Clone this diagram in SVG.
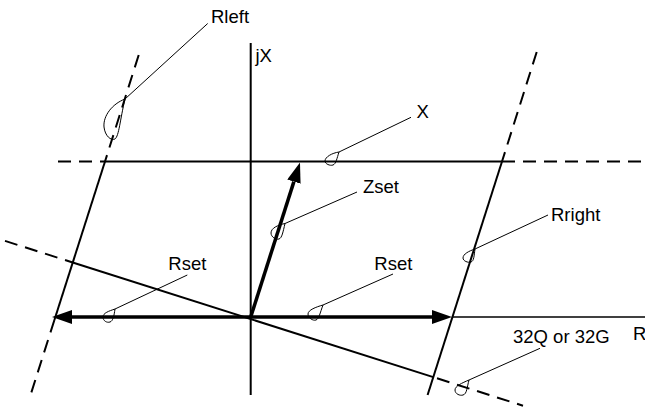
<svg xmlns="http://www.w3.org/2000/svg" width="645" height="412" viewBox="0 0 645 412">
<style>
.ln{stroke:#000;stroke-width:2;fill:none}
.ds{stroke:#000;stroke-width:2;fill:none;stroke-dasharray:13 8}
.bold{stroke:#000;stroke-width:3.5;fill:none}
.ax{stroke:#000;stroke-width:2;fill:none}
.ldr{stroke:#000;stroke-width:1;fill:none}
.loop{stroke:#000;stroke-width:1;fill:none}
text{font-family:"Liberation Sans",Arial,sans-serif;font-size:18.5px;fill:#000}
</style>
<defs>
<marker id="arr" viewBox="0 0 20 14" refX="0" refY="7" markerWidth="20" markerHeight="14" markerUnits="userSpaceOnUse" orient="auto">
<path d="M0,0 L20,7 L0,14 Z" fill="#000"/>
</marker>
</defs>
<rect width="645" height="412" fill="#fff"/>
<g id="axes">
<line class="ax" x1="250.7" y1="43" x2="250.7" y2="395"/>
<line class="ax" x1="452" y1="317" x2="645" y2="317" style="stroke-width:1.7"/>
<text x="255.5" y="62">jX</text>
<text x="633" y="340">R</text>
</g>
<g id="boundaries">
<line class="ds" x1="58" y1="161.5" x2="105" y2="161.5"/>
<line class="ln" x1="105" y1="161.5" x2="502" y2="161.5"/>
<line class="ds" x1="502" y1="161.5" x2="645" y2="161.5"/>
<line class="ds" x1="138.7" y1="55" x2="105" y2="161.5"/>
<line class="ln" x1="105" y1="161.5" x2="54.4" y2="320"/>
<line class="ds" x1="54.4" y1="320" x2="29.6" y2="398"/>
<line class="ds" x1="536.7" y1="52" x2="502" y2="161.5"/>
<line class="ln" x1="502" y1="161.5" x2="427.6" y2="395"/>
<line class="ds" x1="5" y1="240.9" x2="72.7" y2="262.5"/>
<line class="ln" x1="72.7" y1="262.5" x2="433.3" y2="377.1"/>
<line class="ds" x1="437" y1="378.3" x2="523" y2="405.7"/>
</g>
<g id="vectors">
<line class="bold" x1="250.7" y1="317" x2="72" y2="317" marker-end="url(#arr)"/>
<line class="bold" x1="250.7" y1="317" x2="432" y2="317" marker-end="url(#arr)"/>
<line class="bold" x1="250.7" y1="317" x2="293.9" y2="181.6" marker-end="url(#arr)"/>
</g>
<g id="callout-rleft">
<line class="ldr" x1="207.7" y1="23.5" x2="125" y2="99"/>
<path class="loop" d="M125,99 C112,104 103,116 104,127 C105,136 111,141 115,139 C119,136 120,120 125,99 Z"/>
<text x="211" y="22.7">Rleft</text>
</g>
<g id="callout-x">
<line class="ldr" x1="411" y1="117.3" x2="339" y2="152"/>
<path class="loop" d="M339,152 C332,153 325,157 325,161 C325,164 330,166 333,165 C336,164 337,158 339,152 Z"/>
<text x="416.5" y="118">X</text>
</g>
<g id="callout-zset">
<line class="ldr" x1="357" y1="192" x2="285" y2="223.5"/>
<path class="loop" d="M285,223.5 C278,225 271,228 271,233 C271,237 276,240 279,239 C282,238 283,232 285,223.5 Z"/>
<text x="363" y="193">Zset</text>
</g>
<g id="callout-rright">
<line class="ldr" x1="548" y1="215" x2="475" y2="249"/>
<path class="loop" d="M475,249 C469,251 463,254 463,258 C463,261 468,263 471,262 C474,261 474,256 475,249 Z"/>
<text x="551" y="221">Rright</text>
</g>
<g id="callout-rset-left">
<line class="ldr" x1="187.3" y1="275" x2="115" y2="309"/>
<path class="loop" d="M115,309 C109,311 103,313 103,317 C103,321 107,323 110,322 C113,321 114,316 115,309 Z"/>
<text x="168.3" y="270">Rset</text>
</g>
<g id="callout-rset-right">
<line class="ldr" x1="393" y1="274" x2="323" y2="305"/>
<path class="loop" d="M323,305 C316,307 308,310 308,314 C308,318 313,321 316,320 C319,319 320,313 323,305 Z"/>
<text x="374.3" y="270">Rset</text>
</g>
<g id="callout-32q">
<line class="ldr" x1="540" y1="348.3" x2="469" y2="380"/>
<path class="loop" d="M469,380 C462,383 455,386 455,390 C455,394 460,396 463,395 C467,394 467,387 469,380 Z"/>
<text x="513" y="343">32Q or 32G</text>
</g>
</svg>
